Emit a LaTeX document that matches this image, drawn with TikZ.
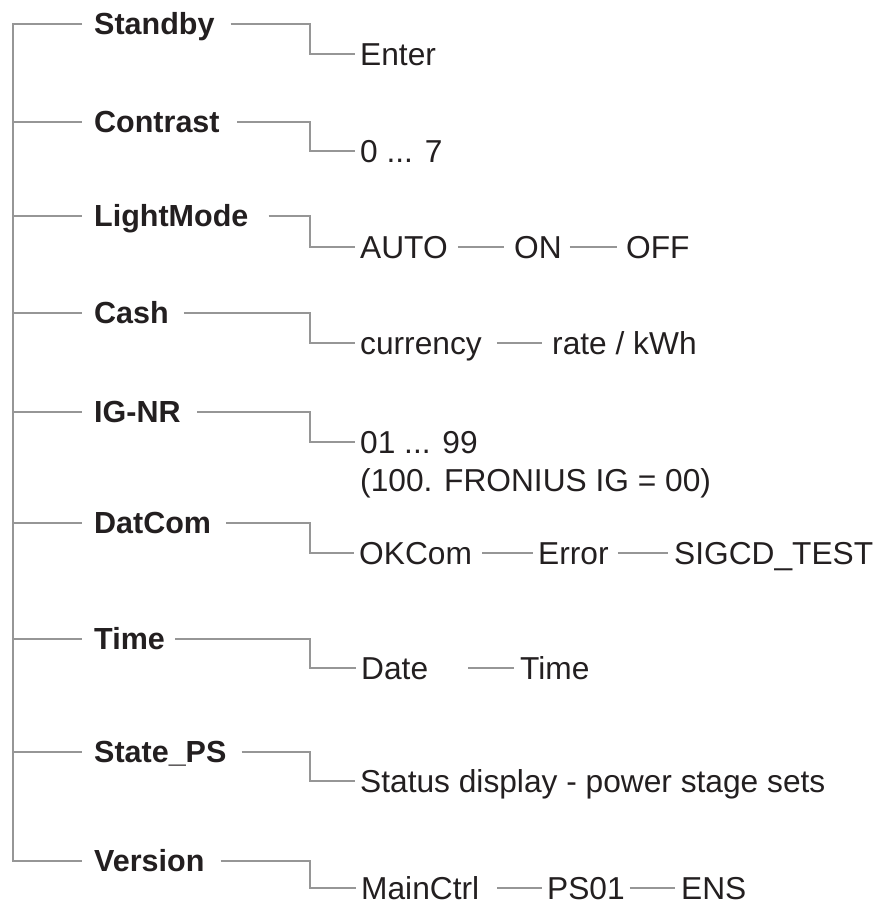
\documentclass[tikz,border=0pt]{standalone}
\usepackage{fontspec}
\setmainfont{Liberation Sans}
\definecolor{ln}{RGB}{150,150,150}
\definecolor{tx}{RGB}{35,31,32}
\begin{document}
\begin{tikzpicture}[x=1pt,y=-1pt,
  lbl/.style={font=\fontsize{30.5pt}{36pt}\selectfont\bfseries, text=tx, inner sep=0pt, text height=21.8pt, text depth=0pt, anchor=west},
  val/.style={font=\fontsize{31.7pt}{38pt}\selectfont, text=tx, inner sep=0pt, text height=22.7pt, text depth=0pt, anchor=west},
  conn/.style={draw=ln, line width=2pt}]
\useasboundingbox (0,0) rectangle (878,906);
\coordinate (tr) at (12.7,0);
\coordinate (ex) at (310,0);
% main labels
\node[lbl] (standby) at (94,24) {Standby};
\node[lbl] (contrast) at (94,122) {Contrast};
\node[lbl] (lightmode) at (94,216) {LightMode};
\node[lbl] (cash) at (94,313) {Cash};
\node[lbl] (ignr) at (94,412) {IG-NR};
\node[lbl] (datcom) at (94,523) {DatCom};
\node[lbl] (time) at (94,639) {Time};
\node[lbl] (stateps) at (94,752) {State\_PS};
\node[lbl] (version) at (94,861) {Version};
% values
\node[val] (enter) at (360,54) {Enter};
\node[val] (c07) at (360,151) {0 ... 7};
\node[val] (auto) at (360,247) {AUTO};
\node[val] (on) at (514,247) {ON};
\node[val] (off) at (626,247) {OFF};
\node[val] (currency) at (360,343) {currency};
\node[val] (rate) at (552,343) {rate / kWh};
\node[val] (n0199) at (360,442) {01 ... 99};
\node[val] (fronius) at (360,480) {(100. FRONIUS IG = 00)};
\node[val] (okcom) at (359,553) {OKCom};
\node[val] (error) at (538,553) {Error};
\node[val] (sigcd) at (674,553) {SIGCD\_TEST};
\node[val] (date) at (361,668) {Date};
\node[val] (timev) at (520,668) {Time};
\node[val] (status) at (360,781) {Status display - power stage sets};
\node[val] (mainctrl) at (361,888) {MainCtrl};
\node[val] (ps01) at (547,888) {PS01};
\node[val] (ens) at (681,888) {ENS};
% trunk
\draw[conn] ([xshift=-12pt]standby.west) -- (tr |- standby.west) -- (tr |- version.west) -- ([xshift=-12pt]version.west);
\foreach \n in {contrast,lightmode,cash,ignr,datcom,time,stateps}
  \draw[conn] (tr |- \n.west) -- ([xshift=-12pt]\n.west);
% elbows
\draw[conn] ([xshift=16pt]standby.east) -| (ex |- enter.west) -- ([xshift=-5pt]enter.west);
\draw[conn] ([xshift=17.6pt]contrast.east) -| (ex |- c07.west) -- ([xshift=-5pt]c07.west);
\draw[conn] ([xshift=20pt]lightmode.east) -| (ex |- auto.west) -- ([xshift=-5pt]auto.west);
\draw[conn] ([xshift=15pt]cash.east) -| (ex |- currency.west) -- ([xshift=-5pt]currency.west);
\draw[conn] ([xshift=16.6pt]ignr.east) -| (ex |- n0199.west) -- ([xshift=-5pt]n0199.west);
\draw[conn] ([xshift=15pt]datcom.east) -| (ex |- okcom.west) -- ([xshift=-5pt]okcom.west);
\draw[conn] ([xshift=10pt]time.east) -| (ex |- date.west) -- ([xshift=-5pt]date.west);
\draw[conn] ([xshift=15pt]stateps.east) -| (ex |- status.west) -- ([xshift=-5pt]status.west);
\draw[conn] ([xshift=16pt]version.east) -| (ex |- mainctrl.west) -- ([xshift=-5pt]mainctrl.west);
% chains
\draw[conn] ([xshift=10pt]auto.east) -- ([xshift=-10pt]on.west);
\draw[conn] ([xshift=8pt]on.east) -- ([xshift=-9pt]off.west);
\draw[conn] ([xshift=15pt]currency.east) -- ([xshift=-10pt]rate.west);
\draw[conn] ([xshift=10pt]okcom.east) -- ([xshift=-5pt]error.west);
\draw[conn] ([xshift=9pt]error.east) -- ([xshift=-6pt]sigcd.west);
\draw[conn] ([xshift=40pt]date.east) -- ([xshift=-6pt]timev.west);
\draw[conn] ([xshift=18pt]mainctrl.east) -- ([xshift=-5pt]ps01.west);
\draw[conn] ([xshift=5pt]ps01.east) -- ([xshift=-6pt]ens.west);
\end{tikzpicture}
\end{document}
